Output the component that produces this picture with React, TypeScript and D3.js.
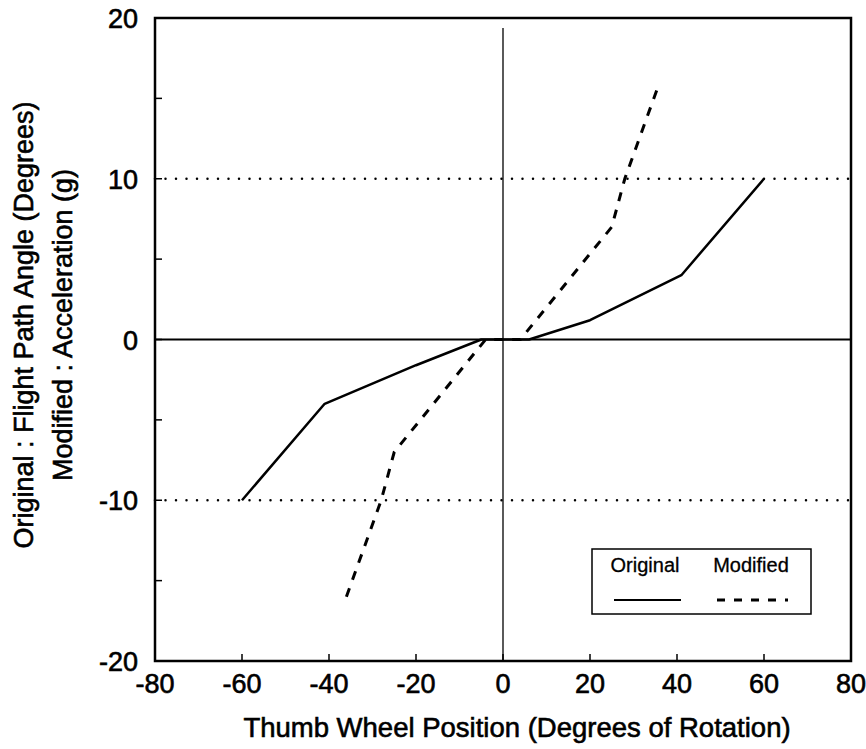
// Thumb wheel position vs. flight path angle / acceleration, original and modified mapping
import React from 'react';
import * as d3 from 'd3';

type Pt = [number, number];

// solid line (original: flight path angle)
const originalX = [-60, -41, -20, -5, 6, 20, 41, 60];
const originalY = [-10, -4, -1.6, 0, 0, 1.2, 4, 10];

// dashed line (modified: acceleration)
const modifiedX = [-36, -28, -25, -4, 4, 25, 28, 36];
const modifiedY = [-16, -10, -7, 0, 0, 7, 10, 16];

const xTicks = [-80, -60, -40, -20, 0, 20, 40, 60, 80];
const yTicks = [-20, -10, 0, 10, 20];
const yMinorTicks = [-15, -5, 5, 15];
const refLines = [-10, 10];

const App = () => {
  const width = 866, height = 749;
  const margin = { top: 18, right: 15, bottom: 88, left: 155 };

  const x = d3.scaleLinear().domain([-80, 80]).range([margin.left, width - margin.right]);
  const y = d3.scaleLinear().domain([-20, 20]).range([height - margin.bottom, margin.top]);

  const line = d3.line<Pt>().x(d => x(d[0])).y(d => y(d[1]));
  const original: Pt[] = originalX.map((v, i) => [v, originalY[i]]);
  const modified: Pt[] = modifiedX.map((v, i) => [v, modifiedY[i]]);

  const font = '"Liberation Sans", Arial, Helvetica, sans-serif';
  const x0 = x(-80), x1 = x(80), y0 = y(-20), y1 = y(20);
  // scanned text looks heavier, thicken it a bit
  const ink = { fill: '#000', stroke: '#000', strokeWidth: 0.6 };

  // legend box
  const lg = { x: 592, y: 549, w: 219, h: 65 };

  return (
    <svg width={width} height={height} style={{ position: 'absolute', left: 0, top: 0, background: '#fff' }} fontFamily={font}>
      {/* dotted reference lines at +/-10 */}
      {refLines.map(v => (
        <line key={v} x1={x0} x2={x1} y1={y(v)} y2={y(v)} stroke="#000" strokeWidth={2.5} strokeDasharray="0 10.5" strokeLinecap="round" />
      ))}
      {/* zero axes */}
      <line x1={x0} x2={x1} y1={y(0)} y2={y(0)} stroke="#000" strokeWidth={1.8} />
      <line x1={x(0)} x2={x(0)} y1={y1 + 10} y2={y0} stroke="#000" strokeWidth={1.3} />

      {/* series */}
      <path d={line(original) ?? ''} fill="none" stroke="#000" strokeWidth={2.5} strokeLinejoin="round" />
      <path d={line(modified) ?? ''} fill="none" stroke="#000" strokeWidth={3} strokeDasharray="9 9" />

      {/* frame */}
      <rect x={x0} y={y1} width={x1 - x0} height={y0 - y1} fill="none" stroke="#000" strokeWidth={2.5} />

      {/* ticks */}
      {xTicks.slice(1, -1).map(t => (
        <line key={`xt${t}`} x1={x(t)} x2={x(t)} y1={y0} y2={y0 - 7} stroke="#000" strokeWidth={1.5} />
      ))}
      {[...yTicks.slice(1, -1), ...yMinorTicks].map(t => (
        <line key={`yt${t}`} x1={x0} x2={x0 + 7} y1={y(t)} y2={y(t)} stroke="#000" strokeWidth={1.5} />
      ))}

      {/* tick labels */}
      {xTicks.map(t => (
        <text key={`xl${t}`} x={x(t)} y={y0 + 32} textAnchor="middle" fontSize={27} {...ink}>{t}</text>
      ))}
      {yTicks.map(t => (
        <text key={`yl${t}`} x={x0 - 17} y={y(t) + 10} textAnchor="end" fontSize={27} {...ink}>{t}</text>
      ))}

      {/* axis titles */}
      <text x={517} y={737} textAnchor="middle" fontSize={27.5} {...ink}>Thumb Wheel Position (Degrees of Rotation)</text>
      <text transform="translate(33, 325) rotate(-90)" textAnchor="middle" fontSize={27} {...ink}>Original : Flight Path Angle (Degrees)</text>
      <text transform="translate(72, 325) rotate(-90)" textAnchor="middle" fontSize={27} {...ink}>Modified : Acceleration (g)</text>

      {/* legend */}
      <rect x={lg.x} y={lg.y} width={lg.w} height={lg.h} fill="#fff" stroke="#000" strokeWidth={1.5} />
      <text x={645} y={572} textAnchor="middle" fontSize={20} {...ink} strokeWidth={0.3}>Original</text>
      <text x={751} y={572} textAnchor="middle" fontSize={20} {...ink} strokeWidth={0.3}>Modified</text>
      <line x1={614} x2={681} y1={600} y2={600} stroke="#000" strokeWidth={2} />
      <line x1={717} x2={788} y1={600} y2={600} stroke="#000" strokeWidth={3} strokeDasharray="8 9" />
    </svg>
  );
};

export default App;
